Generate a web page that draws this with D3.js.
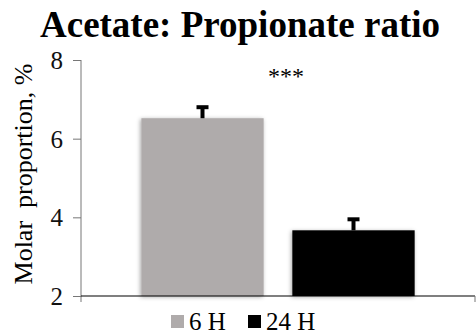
<!DOCTYPE html>
<html>
<head>
<meta charset="utf-8">
<script src="https://cdn.jsdelivr.net/npm/d3@7"></script>
<style>
  body { margin: 0; background: #fff; }
</style>
</head>
<body>
<div id="chart"></div>
<script>
var categories = ['6 H', '24 H'];
var values = [6.52, 3.67];
var errors = [0.28, 0.28];
var colors = ['#afabab', '#000000'];
var yTicks = [2, 4, 6, 8];

var serif = '"Liberation Serif", "Times New Roman", serif';
var width = 476, height = 334;
var svg = d3.select('#chart').append('svg').attr('width', width).attr('height', height)
  .attr('font-family', serif);

var defs = svg.append('defs');
var f = defs.append('filter').attr('id', 'shadow').attr('x', '-10%').attr('y', '-10%').attr('width', '130%').attr('height', '130%');
f.append('feDropShadow').attr('dx', -1).attr('dy', 1).attr('stdDeviation', 2).attr('flood-color', '#000').attr('flood-opacity', 0.35);

var y = d3.scaleLinear().domain([2, 8]).range([296, 60]);
var x = d3.scaleBand().domain(categories).range([127, 429]).paddingInner(0.19).paddingOuter(0.095);

// title
svg.append('text').attr('x', 240).attr('y', 37).attr('text-anchor', 'middle')
  .style('font-family', serif).style('font-size', '37px').style('font-weight', 'bold')
  .text('Acetate: Propionate ratio');

// bars
svg.selectAll('rect.bar').data(values).enter().append('rect')
  .attr('class', 'bar')
  .attr('x', function (d, i) { return x(categories[i]); })
  .attr('width', x.bandwidth())
  .attr('y', function (d) { return y(d); })
  .attr('height', function (d) { return y(2) - y(d); })
  .attr('fill', function (d, i) { return colors[i]; })
  .attr('filter', 'url(#shadow)');

// error bars
var eb = svg.selectAll('g.err').data(values).enter().append('g').attr('class', 'err');
eb.append('line')
  .attr('x1', function (d, i) { return x(categories[i]) + x.bandwidth() / 2; })
  .attr('x2', function (d, i) { return x(categories[i]) + x.bandwidth() / 2; })
  .attr('y1', function (d) { return y(d); })
  .attr('y2', function (d, i) { return y(d + errors[i]); })
  .attr('stroke', '#000').attr('stroke-width', 4);
eb.append('line')
  .attr('x1', function (d, i) { return x(categories[i]) + x.bandwidth() / 2 - 6; })
  .attr('x2', function (d, i) { return x(categories[i]) + x.bandwidth() / 2 + 6; })
  .attr('y1', function (d, i) { return y(d + errors[i]); })
  .attr('y2', function (d, i) { return y(d + errors[i]); })
  .attr('stroke', '#000').attr('stroke-width', 4);

// y axis
var yAxis = svg.append('g').attr('transform', 'translate(81,0)')
  .call(d3.axisLeft(y).tickValues(yTicks).tickSize(8).tickPadding(10).tickFormat(d3.format('d')));
yAxis.attr('font-family', serif).attr('font-size', 25);
yAxis.select('.domain').attr('stroke', '#777').attr('d', 'M0,' + y(8) + 'V' + (y(2) + 6));
yAxis.selectAll('.tick line').attr('stroke', '#777');
yAxis.selectAll('.tick text').style('font-family', serif).style('font-size', '25px')
  .attr('fill', '#111').attr('dy', '0.34em');

// x axis line
svg.append('line').attr('x1', 81).attr('x2', 475).attr('y1', y(2)).attr('y2', y(2))
  .attr('stroke', '#000').attr('stroke-width', 1.2);
svg.append('line').attr('x1', 475).attr('x2', 475).attr('y1', y(2)).attr('y2', y(2) + 6)
  .attr('stroke', '#777');

// significance
svg.append('text').attr('x', 286).attr('y', 84).attr('text-anchor', 'middle')
  .style('font-family', serif).style('font-size', '24px').text('***');

// y label
svg.append('text').attr('transform', 'translate(32,174) rotate(-90)').attr('text-anchor', 'middle')
  .style('font-family', serif).style('font-size', '26px').style('white-space', 'pre')
  .text('Molar  proportion, %');

// legend
var lx = [171, 248];
var leg = svg.selectAll('g.leg').data(categories).enter().append('g').attr('class', 'leg')
  .attr('transform', function (d, i) { return 'translate(' + lx[i] + ',315)'; });
leg.append('rect').attr('width', 13).attr('height', 13).attr('fill', function (d, i) { return colors[i]; });
leg.append('text').attr('x', 18).attr('y', 15).style('font-family', serif).style('font-size', '25px')
  .text(function (d) { return d; });
</script>
</body>
</html>
